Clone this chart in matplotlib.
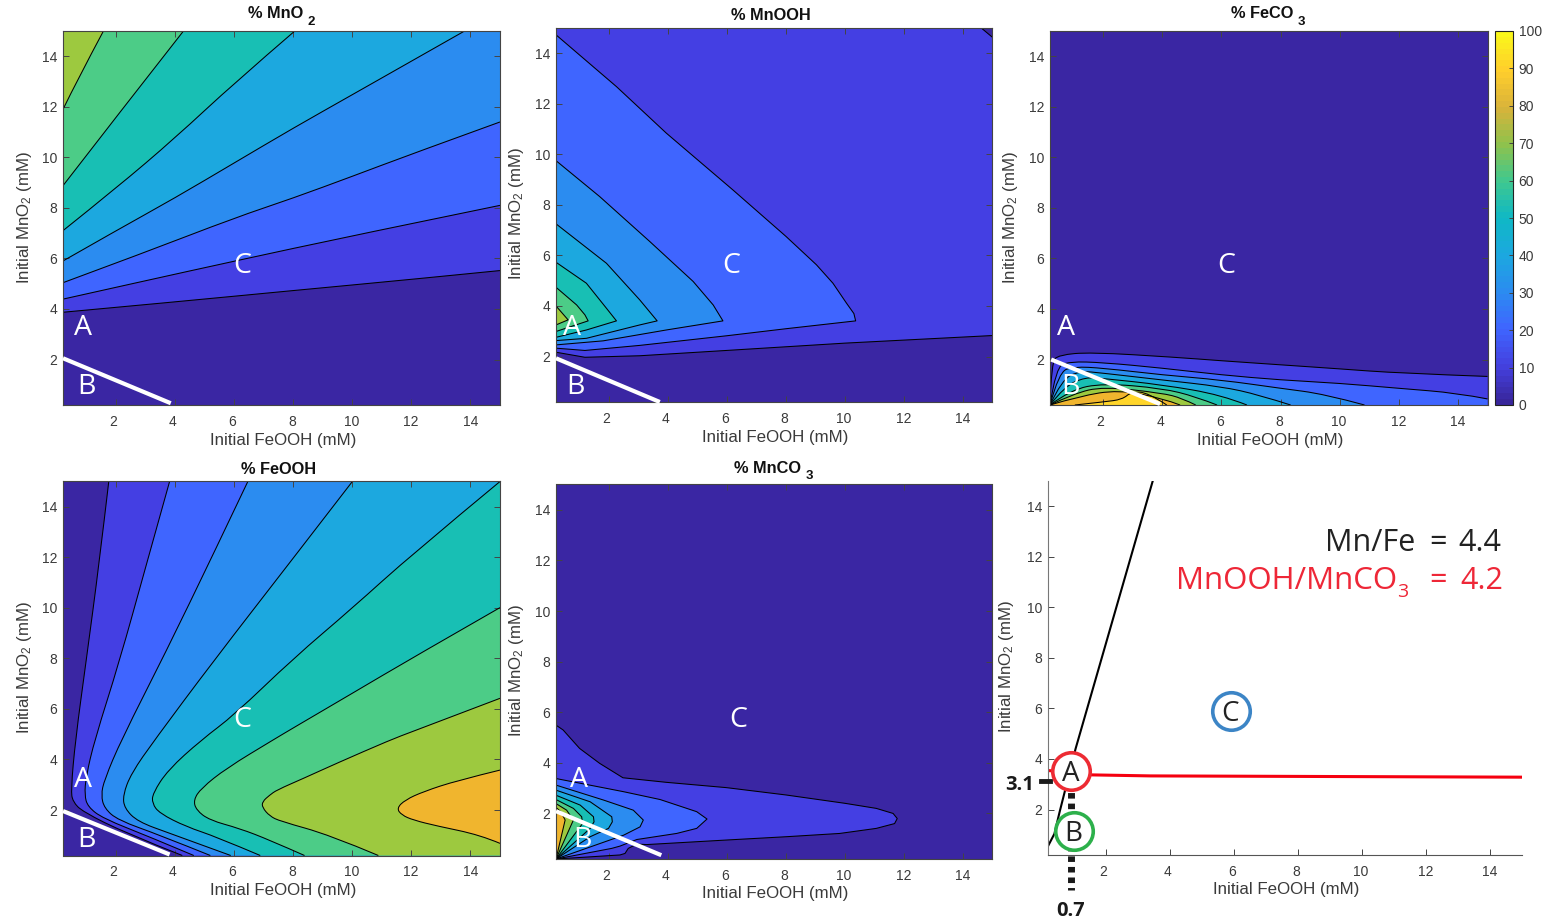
import matplotlib
matplotlib.use("Agg")
import matplotlib.pyplot as plt
from matplotlib.colors import LinearSegmentedColormap, Normalize
from matplotlib.cm import ScalarMappable
from matplotlib.patches import PathPatch
from matplotlib.path import Path
from matplotlib.transforms import Affine2D, ScaledTranslation

W, H = 1549, 922
plt.rcParams["font.family"] = ["Liberation Sans", "DejaVu Sans"]
plt.rcParams["mathtext.default"] = "regular"
plt.rcParams["mathtext.fontset"] = "custom"
plt.rcParams["mathtext.rm"] = "Liberation Sans"

# ---- data: contour levels, (FeOOH, MnO2) in mM ----
XMIN, XMAX, YMIN, YMAX = 0.2, 15.0, 0.2, 15.0
TICKS = [2, 4, 6, 8, 10, 12, 14]
CBAR_TICKS = list(range(0, 101, 10))

MNO2_10 = [(0.2, 3.87), (4, 4.28), (8, 4.73), (12, 5.17), (15, 5.52)]
MNO2_20 = [(0.2, 4.39), (3, 5.12), (5.95, 5.88), (10, 6.9), (15, 8.1)]
MNO2_30 = [(0.2, 5.04), (3, 6.25), (6, 7.6), (8, 8.39), (10, 9.25), (12, 10.13), (15, 11.4)]
MNO2_40 = [(0.2, 5.9), (2, 7.1), (4, 8.4), (6, 9.78), (8, 11.16), (10, 12.48), (13.8, 15)]
MNO2_50 = [(0.2, 7.1), (2, 8.78), (4, 10.77), (6, 12.94), (8.05, 15)]
MNO2_60 = [(0.2, 8.88), (2, 11.6), (4.28, 15)]
MNO2_70 = [(0.2, 11.9), (0.7, 13.1), (1.57, 15)]

MNOOH_10 = [(0.2, 2.17), (1.18, 1.97), (3.04, 2.03), (5.98, 2.24), (10, 2.53), (15, 2.83)]
MNOOH_20 = [(0.2, 14.73), (2.25, 12.68), (3.94, 10.84), (6.2, 8.59), (8, 6.75), (9.03, 5.63), (9.59, 4.9),
            (10.05, 4.11), (10.3, 3.7), (10.36, 3.41), (8, 3.1), (5.98, 2.82), (3.04, 2.44), (1.18, 2.24), (0.2, 2.33)]
MNOOH_30 = [(0.2, 9.75), (1.68, 8.33), (3.38, 6.55), (4.85, 4.97), (5.53, 4.04), (5.86, 3.41),
            (3.94, 3.05), (1.8, 2.62), (0.2, 2.46)]
MNOOH_40 = [(0.2, 7.25), (1.91, 5.69), (3.04, 4.24), (3.63, 3.41), (3.04, 3.25), (1.23, 2.72), (0.2, 2.63)]
MNOOH_50 = [(0.2, 5.73), (1.23, 4.9), (1.91, 3.91), (2.25, 3.41), (1.23, 3.05), (0.2, 2.76)]
MNOOH_60 = [(0.2, 4.74), (0.9, 4.04), (1.18, 3.65), (1.29, 3.41), (0.2, 2.99)]
MNOOH_70 = [(0.2, 4.0), (0.61, 3.45), (0.2, 3.25)]
MNOOH_CORNER = [(14.62, 15), (15, 14.63)]

FECO3_10 = [(0.2, 0.2), (0.25, 1.9), (0.5, 2.18), (1.57, 2.29), (4.42, 2.09), (6, 1.95), (8, 1.79),
            (10, 1.63), (12, 1.46), (15, 1.33)]
FECO3_20 = [(0.2, 0.2), (0.4, 1.7), (0.86, 1.92), (2, 1.88), (4, 1.66), (6, 1.39), (8, 1.19),
            (10, 1.06), (12, 0.86), (14, 0.67), (15, 0.44)]
FECO3_30 = [(0.2, 0.2), (0.5, 1.5), (1.0, 1.72), (2, 1.66), (4, 1.39), (6, 1.19), (8, 0.86), (9.5, 0.63), (10.84, 0.2)]
FECO3_40 = [(0.2, 0.2), (0.6, 1.2), (1.2, 1.55), (2, 1.46), (4, 1.19), (6, 0.93), (7.27, 0.6), (8.34, 0.2)]
FECO3_50 = [(0.2, 0.2), (0.7, 0.95), (1.4, 1.3), (2, 1.25), (4, 1.0), (6, 0.6), (6.86, 0.2)]
FECO3_60 = [(0.2, 0.2), (0.9, 0.8), (2, 1.06), (4, 0.86), (5.13, 0.53), (5.85, 0.2)]
FECO3_70 = [(0.2, 0.2), (1.0, 0.65), (2, 0.93), (4, 0.67), (4.66, 0.47), (5.13, 0.2)]
FECO3_80 = [(0.2, 0.2), (1.2, 0.55), (2.52, 0.8), (4, 0.47), (4.6, 0.2)]
FECO3_90 = [(1.04, 0.2), (2, 0.32), (2.65, 0.42), (2.95, 0.72), (3.5, 0.7), (4.15, 0.2)]

FEOOH_10 = [(1.75, 15), (1.43, 11.8), (0.98, 7.87), (0.62, 4.77), (0.47, 2.79), (0.53, 2.33), (0.87, 1.93), (2.34, 1.08), (4.24, 0.2)]
FEOOH_20 = [(3.81, 15), (3.02, 11.7), (2.11, 7.87), (1.27, 4.77), (0.98, 3.32), (0.93, 2.59), (1.04, 2.13), (1.55, 1.67), (3.13, 0.94), (4.63, 0.2)]
FEOOH_30 = [(6.46, 15), (5.28, 12.1), (3.69, 8.27), (2.17, 4.77), (1.6, 3.19), (1.49, 2.59), (1.6, 2.07), (2.06, 1.6), (3.47, 1.01), (5.19, 0.2)]
FEOOH_40 = [(10, 15), (8, 11.97), (5.28, 7.87), (3.3, 4.77), (2.51, 3.45), (2.23, 2.59), (2.28, 2.07), (2.73, 1.54), (3.81, 1.08), (5.88, 0.2)]
FEOOH_50 = [(15, 15), (12, 12.1), (10, 9.99), (8, 8.0), (6, 5.76), (4.88, 4.77), (3.75, 3.58), (3.24, 2.66), (3.22, 2.26), (3.47, 1.87),
            (4.37, 1.34), (5.39, 0.94), (6.88, 0.2)]
FEOOH_60 = [(15, 10.01), (12, 8.0), (10, 6.62), (8, 5.25), (7.31, 4.77), (5.73, 3.65), (4.88, 2.86), (4.62, 2.4), (4.71, 2.0), (5.16, 1.6),
            (6.18, 1.27), (7.2, 0.81), (8.38, 0.2)]
FEOOH_70 = [(15, 6.42), (12, 5.09), (11.28, 4.77), (9.47, 3.85), (8.34, 3.25), (7.44, 2.79), (7.2, 2.59), (6.95, 2.33), (6.95, 2.1), (7.2, 1.76),
            (7.55, 1.56), (9.24, 1.01), (10.88, 0.2)]
FEOOH_80 = [(15, 3.58), (13.53, 3.16), (12.41, 2.73), (11.79, 2.4), (11.5, 2.07), (11.67, 1.8), (12.07, 1.6), (12.86, 1.37), (14.33, 1.01), (15, 0.68)]

MNCO3_10 = [(0.2, 5.49), (0.44, 5.3), (1, 4.57), (1.68, 3.98), (2.47, 3.41), (3.94, 3.23), (5.98, 3.02), (8, 2.73), (10, 2.4),
            (11.06, 2.2), (11.63, 2), (11.77, 1.8), (11.68, 1.6), (11.06, 1.41), (9.82, 1.21), (8, 1.08), (5.98, 0.95),
            (3.27, 0.77), (2.94, 0.79), (2.65, 0.62), (2.54, 0.42), (2.37, 0.36), (0.2, 0.2)]
MNCO3_20 = [(0.2, 3.38), (2.49, 2.86), (3.73, 2.55), (4.97, 2.07), (5.32, 1.78), (4.97, 1.41), (4.29, 1.21), (2.94, 0.97),
            (2.37, 0.71), (2.09, 0.62), (0.2, 0.2)]
MNCO3_30 = [(0.2, 3.12), (1.81, 2.53), (2.82, 2.13), (3.16, 1.74), (3.05, 1.47), (2.49, 1.14), (0.2, 0.2)]
MNCO3_40 = [(0.2, 2.92), (1.36, 2.46), (2.09, 1.87), (2.11, 1.67), (1.98, 1.41), (1.36, 1.08), (0.2, 0.2)]
MNCO3_50 = [(0.2, 2.72), (1.02, 2.33), (1.47, 1.87), (1.49, 1.67), (1.36, 1.41), (0.2, 0.2)]
MNCO3_60 = [(0.2, 2.55), (0.79, 2.2), (1.07, 1.87), (1.1, 1.6), (0.2, 0.2)]
MNCO3_70 = [(0.2, 2.39), (0.56, 2.13), (0.79, 1.74), (0.2, 0.2)]
MNCO3_80 = [(0.2, 2.24), (0.36, 2.07), (0.51, 1.74), (0.2, 0.2)]

BOUNDARY_MNFE_X = [0.2, 0.4, 0.56, 1.06, 3.47]
BOUNDARY_MNFE_Y = [0.55, 1.04, 1.89, 4.4, 15]
BOUNDARY_RATIO_X = [0.23, 1.57, 3.4, 15]
BOUNDARY_RATIO_Y = [3.54, 3.37, 3.33, 3.28]

# ---- style ----
BANDS = {0: "#3A26A3", 10: "#443FE3", 20: "#3F65FF", 30: "#2B8CF0", 40: "#1CA8DF",
         50: "#18BFB4", 60: "#4CCC87", 70: "#9DC93F", 80: "#F0B52E", 90: "#FFD52A"}
CBAR = ["#38269B", "#4441E0", "#3F65FF", "#2B8CF0", "#1CA8DF", "#0FB8C5", "#3FC88F", "#8FC24C",
        "#D9B33A", "#FFCE2C", "#FAF71A"]
TC = "#3a3a3a"
SPINE = "#444444"

fig = plt.figure(figsize=(W / 100, H / 100), dpi=100)
px = Affine2D().scale(1 / W, -1 / H).translate(0, 1) + fig.transFigure


def axes_at(l, t, r, b):
    ax = fig.add_axes([l / W, 1 - b / H, (r - l) / W, (b - t) / H])
    ax.set_xlim(XMIN, XMAX)
    ax.set_ylim(YMIN, YMAX)
    ax.set_xticks(TICKS)
    ax.set_yticks(TICKS)
    ax.tick_params(direction="in", length=4, width=0.7, color=SPINE, labelcolor=TC, labelsize=10, pad=7)
    ax.tick_params(axis="y", pad=4)
    for tick_value, lab in zip(TICKS, ax.get_xticklabels()):
        shift = -2.7 * (14 - tick_value) / 12
        lab.set_transform(lab.get_transform() + ScaledTranslation(shift / 100, 0, fig.dpi_scale_trans))
    for s in ax.spines.values():
        s.set_color(SPINE)
        s.set_linewidth(0.8)
    return ax


def finish_labels(ax, title, sub, tpos, xlab, ylab):
    if title:
        fig.text(tpos[0], tpos[1], title, transform=px, fontsize=11.8, fontweight="bold", color="#111111", ha="left", va="center")
    if sub:
        fig.text(tpos[2], tpos[1] + 8, sub, transform=px, fontsize=9.5, fontweight="bold", color="#111111", ha="left", va="center")
    ax.set_xlabel("Initial FeOOH (mM)", fontsize=12.2, color=TC)
    ax.xaxis.set_label_coords(xlab[0] / W, 1 - xlab[1] / H, transform=fig.transFigure)
    ax.xaxis.label.set_va("center")
    ax.set_ylabel("Initial MnO$_2$ (mM)", fontsize=12.2, color=TC)
    ax.yaxis.set_label_coords((ylab[0] + 3) / W, 1 - ylab[1] / H, transform=fig.transFigure)
    ax.yaxis.label.set_va("center")


def curve(points):
    """Quadratic Bezier path that uses the read points as control points."""
    verts, codes = [points[0]], [Path.MOVETO]
    n = len(points)
    for i in range(1, n - 1):
        end = points[i + 1] if i == n - 2 else ((points[i][0] + points[i + 1][0]) / 2, (points[i][1] + points[i + 1][1]) / 2)
        verts += [points[i], end]
        codes += [Path.CURVE3, Path.CURVE3]
    if n == 2:
        verts.append(points[1])
        codes.append(Path.LINETO)
    return verts, codes


def panel(rect, contours, title, sub, tpos, xlab, ylab, letters, cut, smooth=False):
    ax = axes_at(*rect)
    ax.set_facecolor(BANDS[0])
    ax.tick_params(top=True, right=True)
    for level, path, closing in contours:
        if smooth:
            verts, codes = curve(list(path))
        else:
            verts, codes = list(path), [Path.MOVETO] + [Path.LINETO] * (len(path) - 1)
        fv = verts + list(closing) + [verts[0]]
        fc = codes + [Path.LINETO] * len(closing) + [Path.LINETO]
        ax.add_patch(PathPatch(Path(fv, fc), fc=BANDS[level], ec="none", zorder=1))
        ax.add_patch(PathPatch(Path(verts, codes), fc="none", ec="k", lw=0.75, zorder=2, joinstyle="round"))
    ax.plot(cut[0], cut[1], color="white", lw=3.0, zorder=3, solid_capstyle="butt", clip_on=False)
    finish_labels(ax, title, sub, tpos, xlab, ylab)
    for ch, x, y in letters:
        fig.text(x, y + 3, ch, transform=px, color="white", family="Open Sans", fontsize=20.5, ha="center", va="center", zorder=6)
    return ax


TR, TL, BR = [(15, 15)], [(0.2, 15)], [(15, 0.2)]

panel((63, 31, 500, 405),
      [(10, MNO2_10, TR + TL), (20, MNO2_20, TR + TL), (30, MNO2_30, TR + TL), (40, MNO2_40, TL),
       (50, MNO2_50, TL), (60, MNO2_60, TL), (70, MNO2_70, TL)],
      "% MnO", "2", (248, 14, 308), (283, 440), (21, 218),
      [("A", 83, 325), ("B", 86.5, 384), ("C", 242, 263)], ([0.2, 3.85], [2.05, 0.27]), smooth=True)

panel((556, 28, 992.5, 402),
      [(10, MNOOH_10, TR + TL), (0, MNOOH_CORNER, TR), (20, MNOOH_20, []), (30, MNOOH_30, []), (40, MNOOH_40, []),
       (50, MNOOH_50, []), (60, MNOOH_60, []), (70, MNOOH_70, [])],
      "% MnOOH", None, (731, 16, 0), (775, 437), (513, 214),
      [("A", 572, 325), ("B", 575, 384), ("C", 731, 263)], ([0.2, 3.72], [1.93, 0.2]))

panel((1050, 31, 1487.5, 405),
      [(10, FECO3_10, BR), (20, FECO3_20, BR), (30, FECO3_30, []), (40, FECO3_40, []), (50, FECO3_50, []),
       (60, FECO3_60, []), (70, FECO3_70, []), (80, FECO3_80, []), (90, FECO3_90, [])],
      "% FeCO", "3", (1231, 14, 1298), (1270, 440), (1007, 218),
      [("A", 1066, 325), ("B", 1070, 384), ("C", 1226, 263)], ([0.24, 3.92], [2.0, 0.24]), smooth=True)

panel((63, 481.5, 500, 855.5),
      [(10, FEOOH_10, BR + TR), (20, FEOOH_20, BR + TR), (30, FEOOH_30, BR + TR), (40, FEOOH_40, BR + TR),
       (50, FEOOH_50, BR), (60, FEOOH_60, BR), (70, FEOOH_70, BR), (80, FEOOH_80, [])],
      "% FeOOH", None, (241, 469, 0), (283, 890), (21, 668),
      [("A", 83, 777), ("B", 86.5, 837), ("C", 242, 717)], ([0.2, 3.81], [1.96, 0.24]), smooth=True)

panel((556, 484.5, 992.5, 859),
      [(10, MNCO3_10, []), (20, MNCO3_20, []), (30, MNCO3_30, []), (40, MNCO3_40, []), (50, MNCO3_50, []),
       (60, MNCO3_60, []), (70, MNCO3_70, []), (80, MNCO3_80, [])],
      "% MnCO", "3", (734, 468, 806), (775, 893), (513, 671),
      [("A", 579, 777), ("B", 582, 837), ("C", 738, 717)], ([0.2, 3.77], [2.09, 0.35]))

# colour bar
cax = fig.add_axes([1495 / W, 1 - 405 / H, 18 / W, 374 / H])
cmap = LinearSegmentedColormap.from_list("washed_parula", CBAR, N=64)
cb = fig.colorbar(ScalarMappable(Normalize(0, 100), cmap), cax=cax, ticks=CBAR_TICKS)
cb.ax.tick_params(direction="in", length=3, width=0.7, color=SPINE, labelcolor=TC, labelsize=10, pad=4)
cb.outline.set_edgecolor("#222222")
cb.outline.set_linewidth(0.8)

# summary panel
ax6 = axes_at(1048, 481, 1522, 855)
ax6.spines["top"].set_visible(False)
ax6.spines["right"].set_visible(False)
ax6.spines["left"].set_color("#777777")
ax6.spines["bottom"].set_color("#555555")
ax6.tick_params(top=False, right=False)
ax6.plot(BOUNDARY_MNFE_X, BOUNDARY_MNFE_Y, color="k", lw=1.5, zorder=2)
ax6.plot(BOUNDARY_RATIO_X, BOUNDARY_RATIO_Y, color="#F5000F", lw=2.2, zorder=2)
finish_labels(ax6, None, None, None, (1286, 889), (1003, 667))

fig.add_artist(plt.Line2D([1071, 1071], [782, 890], transform=px, color="#1a1a1a", lw=5,
                          dashes=(0.8, 0.72), zorder=4))
fig.add_artist(plt.Line2D([1041, 1050], [781, 781], transform=px, color="#1a1a1a", lw=3.5, zorder=4))
for cx_, cy_, col, ch in [(1071, 771, "#ED2B33", "A"), (1074, 831, "#2DB04B", "B"), (1231, 711, "#3C85C6", "C")]:
    fig.add_artist(plt.Line2D([cx_], [cy_], transform=px, marker="o", ms=27, mfc="white", mec=col, mew=2.6, ls="none", zorder=5))
    fig.text(cx_ - 0.5, cy_ + 2.5, ch, transform=px, color="#222222", family="Open Sans", fontsize=20, ha="center", va="center", zorder=6)
fig.text(1020, 785, "3.1", transform=px, color="#1a1a1a", family="Open Sans", fontweight="bold", fontsize=14.5, ha="center", va="center")
fig.text(1071, 911, "0.7", transform=px, color="#1a1a1a", family="Open Sans", fontweight="bold", fontsize=14.5, ha="center", va="center")

RED = "#EE2737"
for txt, x, y, col, ha, fs in [("Mn/Fe", 1415, 543, "#222222", "right", 22), ("=", 1438, 543, "#222222", "center", 22),
                               ("4.4", 1501, 543, "#222222", "right", 22),
                               ("MnOOH/MnCO", 1397, 581, RED, "right", 22.5), ("3", 1397, 592, RED, "left", 14),
                               ("=", 1438, 581, RED, "center", 22), ("4.2", 1503, 581, RED, "right", 22)]:
    fig.text(x, y, txt, transform=px, color=col, family="Open Sans", fontsize=fs, ha=ha, va="center")

fig.savefig("out.png", dpi=100)
